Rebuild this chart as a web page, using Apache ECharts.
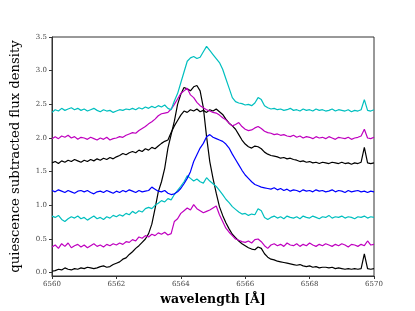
<!DOCTYPE html>
<html>
<head>
<meta charset="utf-8">
<script src="https://cdn.jsdelivr.net/npm/echarts@6/dist/echarts.min.js"></script>
<style>
html,body{margin:0;padding:0;background:#fff;}
#chart{width:415px;height:311px;}
</style>
</head>
<body>
<div id="chart"></div>
<script>
// wavelength sampling grid (Angstrom), 0.1 A steps from 6560 to 6570
const wavelength = Array.from({length: 101}, (_, i) => +(6560 + i * 0.1).toFixed(1));

const xTicks = [6560, 6562, 6564, 6566, 6568, 6570];
const yTicks = [0, 0.5, 1.0, 1.5, 2.0, 2.5, 3.0, 3.5];

const black1 = [0.02,0.03,0.05,0.04,0.07,0.05,0.04,0.06,0.05,0.07,
0.06,0.08,0.07,0.06,0.07,0.09,0.10,0.08,0.09,0.12,
0.14,0.16,0.20,0.22,0.27,0.31,0.36,0.40,0.45,0.50,
0.58,0.72,0.95,1.20,1.35,1.55,1.85,2.05,2.25,2.50,
2.65,2.75,2.73,2.70,2.76,2.78,2.70,2.45,2.02,1.65,
1.40,1.18,0.98,0.85,0.74,0.65,0.57,0.52,0.47,0.43,
0.40,0.37,0.35,0.34,0.38,0.36,0.28,0.23,0.20,0.19,
0.17,0.16,0.15,0.14,0.13,0.12,0.11,0.12,0.10,0.09,
0.10,0.08,0.09,0.07,0.08,0.08,0.07,0.08,0.06,0.07,
0.06,0.05,0.06,0.05,0.06,0.05,0.06,0.28,0.06,0.05,0.06];

const magenta1 = [0.38,0.41,0.36,0.43,0.39,0.44,0.37,0.40,0.42,0.38,
0.41,0.37,0.40,0.43,0.39,0.41,0.38,0.42,0.40,0.43,
0.41,0.44,0.42,0.46,0.45,0.49,0.47,0.53,0.51,0.55,
0.53,0.57,0.55,0.59,0.57,0.60,0.56,0.58,0.76,0.80,
0.88,0.92,0.96,0.93,1.01,0.95,0.92,0.89,0.91,0.93,
0.96,0.99,0.86,0.76,0.66,0.60,0.55,0.50,0.48,0.46,
0.45,0.47,0.44,0.49,0.50,0.46,0.40,0.36,0.41,0.43,
0.40,0.42,0.39,0.44,0.41,0.40,0.43,0.39,0.42,0.40,
0.44,0.41,0.39,0.42,0.40,0.43,0.41,0.39,0.42,0.40,
0.43,0.41,0.38,0.42,0.41,0.39,0.42,0.40,0.47,0.41,0.42];

const cyan1 = [0.84,0.82,0.85,0.79,0.76,0.80,0.83,0.81,0.84,0.80,
0.82,0.78,0.81,0.84,0.80,0.82,0.79,0.83,0.81,0.85,
0.83,0.86,0.84,0.88,0.86,0.91,0.88,0.92,0.90,0.95,
0.97,0.95,1.00,1.03,1.07,1.05,1.10,1.08,1.16,1.22,
1.28,1.35,1.44,1.40,1.36,1.39,1.35,1.33,1.41,1.36,
1.32,1.28,1.22,1.16,1.09,1.04,0.98,0.94,0.90,0.87,
0.88,0.85,0.87,0.86,0.95,0.92,0.82,0.79,0.82,0.84,
0.81,0.83,0.80,0.84,0.82,0.81,0.83,0.80,0.84,0.82,
0.81,0.84,0.82,0.80,0.83,0.82,0.85,0.81,0.83,0.82,
0.84,0.81,0.83,0.82,0.80,0.83,0.82,0.84,0.81,0.83,0.82];

const blue1 = [1.22,1.20,1.23,1.21,1.19,1.22,1.20,1.18,1.21,1.22,
1.20,1.22,1.19,1.17,1.20,1.21,1.19,1.22,1.20,1.18,
1.21,1.19,1.22,1.20,1.23,1.21,1.19,1.22,1.20,1.21,
1.22,1.27,1.24,1.21,1.20,1.22,1.18,1.16,1.17,1.20,
1.25,1.32,1.40,1.50,1.65,1.75,1.85,1.92,2.02,2.05,
2.01,1.99,1.97,1.95,1.91,1.85,1.76,1.68,1.60,1.52,
1.45,1.40,1.35,1.31,1.29,1.27,1.26,1.25,1.24,1.26,
1.23,1.25,1.22,1.24,1.21,1.23,1.22,1.20,1.23,1.21,
1.22,1.20,1.23,1.21,1.22,1.20,1.21,1.23,1.20,1.22,
1.21,1.19,1.22,1.20,1.21,1.22,1.20,1.21,1.19,1.21,1.20];

const black2 = [1.63,1.65,1.62,1.66,1.64,1.67,1.65,1.68,1.66,1.64,
1.67,1.65,1.68,1.66,1.69,1.67,1.70,1.68,1.71,1.69,
1.72,1.74,1.77,1.75,1.78,1.80,1.78,1.82,1.80,1.84,
1.82,1.86,1.84,1.88,1.92,1.95,1.97,2.08,2.18,2.26,
2.34,2.40,2.38,2.42,2.40,2.43,2.39,2.41,2.38,2.42,
2.40,2.43,2.39,2.35,2.28,2.22,2.18,2.13,2.05,1.97,
1.91,1.87,1.85,1.88,1.87,1.84,1.79,1.76,1.74,1.73,
1.72,1.70,1.71,1.69,1.70,1.68,1.67,1.65,1.66,1.64,
1.65,1.63,1.64,1.62,1.64,1.63,1.62,1.64,1.63,1.62,
1.64,1.62,1.63,1.61,1.63,1.62,1.64,1.86,1.63,1.62,1.63];

const magenta2 = [1.99,2.02,1.99,2.03,2.01,2.04,2.00,2.02,1.98,2.01,
2.00,1.98,2.01,1.99,1.97,2.00,1.98,2.01,1.97,1.99,
2.00,2.02,2.01,2.04,2.06,2.08,2.07,2.11,2.14,2.17,
2.21,2.24,2.28,2.33,2.36,2.37,2.38,2.43,2.50,2.58,
2.66,2.70,2.74,2.64,2.60,2.53,2.48,2.45,2.42,2.40,
2.38,2.37,2.34,2.30,2.27,2.22,2.18,2.20,2.23,2.17,
2.13,2.11,2.12,2.15,2.17,2.14,2.10,2.08,2.07,2.05,
2.06,2.04,2.05,2.03,2.02,2.04,2.01,2.03,2.00,2.02,
2.01,1.99,2.02,2.00,2.01,1.99,2.02,2.00,1.98,2.01,
2.00,1.99,2.01,1.98,2.00,2.01,2.03,2.13,2.00,1.99,2.01];

const cyan2 = [2.38,2.42,2.40,2.44,2.41,2.43,2.45,2.42,2.44,2.41,
2.43,2.40,2.42,2.44,2.41,2.39,2.42,2.40,2.41,2.38,
2.40,2.42,2.41,2.43,2.42,2.44,2.42,2.45,2.43,2.46,
2.44,2.47,2.45,2.48,2.46,2.49,2.44,2.42,2.55,2.66,
2.82,2.98,3.14,3.19,3.21,3.18,3.20,3.28,3.36,3.30,
3.24,3.18,3.12,3.02,2.88,2.74,2.60,2.54,2.52,2.51,
2.49,2.50,2.48,2.52,2.60,2.57,2.48,2.45,2.43,2.44,
2.42,2.43,2.41,2.42,2.44,2.41,2.42,2.40,2.43,2.41,
2.42,2.40,2.43,2.41,2.42,2.40,2.41,2.43,2.40,2.42,
2.41,2.40,2.42,2.39,2.41,2.40,2.42,2.57,2.41,2.40,2.42];

const seriesList = [
  {vals: black1, color: '#000000'},
  {vals: magenta1, color: '#bf00bf'},
  {vals: cyan1, color: '#00bfbf'},
  {vals: blue1, color: '#0000ff'},
  {vals: black2, color: '#000000'},
  {vals: magenta2, color: '#bf00bf'},
  {vals: cyan2, color: '#00bfbf'}
];

const FONT = 'DejaVu Serif';
const chart = echarts.init(document.getElementById('chart'), null, {renderer: 'canvas'});
chart.setOption({
  animation: false,
  backgroundColor: '#ffffff',
  grid: {left: 52, right: 41, top: 37, bottom: 35, show: true, borderColor: '#333', borderWidth: 1, backgroundColor: 'transparent'},
  xAxis: {
    type: 'value', min: 6560, max: 6570, interval: 2,
    name: 'wavelength [Å]', nameLocation: 'middle', nameGap: 16,
    nameTextStyle: {fontFamily: FONT, fontSize: 12.5, fontWeight: 'bold', color: '#000'},
    axisLine: {show: true, onZero: false, lineStyle: {color: '#333', width: 1}},
    axisTick: {show: true, inside: false, length: 3, lineStyle: {color: '#333'}},
    axisLabel: {fontFamily: FONT, fontSize: 7, color: '#444', margin: 5, customValues: xTicks,
      formatter: v => String(Math.round(v))},
    splitLine: {show: false}
  },
  yAxis: {
    type: 'value', min: -0.05, max: 3.5,
    name: 'quiescence subtracted flux density', nameLocation: 'middle', nameGap: 30,
    nameTextStyle: {fontFamily: FONT, fontSize: 13.2, color: '#000'},
    axisLine: {show: true, onZero: false, lineStyle: {color: '#333', width: 1}},
    axisTick: {show: true, inside: false, length: 3, lineStyle: {color: '#333'}, customValues: yTicks},
    axisLabel: {fontFamily: FONT, fontSize: 7, color: '#444', margin: 5, customValues: yTicks,
      formatter: v => v.toFixed(1)},
    splitLine: {show: false}
  },
  series: seriesList.map(s => ({
    type: 'line',
    data: wavelength.map((w, i) => [w, s.vals[i]]),
    showSymbol: false,
    symbol: 'none',
    lineStyle: {color: s.color, width: 1.2},
    itemStyle: {color: s.color},
    silent: true
  }))
});
</script>
</body>
</html>
